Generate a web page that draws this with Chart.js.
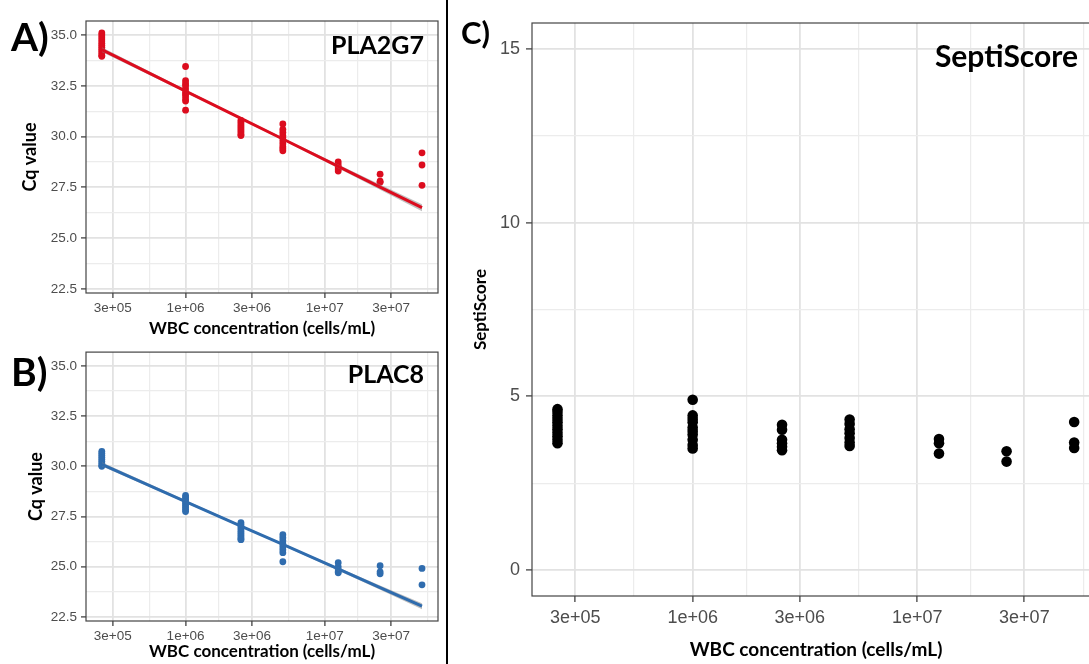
<!DOCTYPE html>
<html>
<head>
<meta charset="utf-8">
<title>WBC concentration vs Cq / SeptiScore</title>
<script src="https://cdn.jsdelivr.net/npm/chart.js"></script>
<style>
    html, body { margin: 0; padding: 0; width: 1089px; height: 664px; overflow: hidden; background: #fff; }
    canvas { position: absolute; }
    .lbl { position: absolute; font-family: Lato, sans-serif; font-weight: 700; line-height: 1; color: #000; white-space: nowrap; }
    #sep { position: absolute; left: 446px; top: 0; width: 2px; height: 664px; background: #000; }
</style>
</head>
<body>
<canvas id="chartA" width="446" height="340" style="left:0;top:0"></canvas>
<canvas id="chartB" width="446" height="324" style="left:0;top:340px"></canvas>
<canvas id="chartC" width="660" height="664" style="left:450px;top:0"></canvas>
<div id="sep"></div>
<div class="lbl" style="left:11px;top:17px;font-size:39px">A)</div>
<div class="lbl" style="left:11px;top:352px;font-size:39px">B)</div>
<div class="lbl" style="left:461px;top:17px;font-size:31px">C)</div>
<div class="lbl" style="right:665px;top:32px;font-size:25px">PLA2G7</div>
<div class="lbl" style="right:665px;top:361px;font-size:25px">PLAC8</div>
<div class="lbl" style="right:11px;top:40px;font-size:30px">SeptiScore</div>

<script>
// WBC concentrations (cells/mL), one per cluster
const concentrations = [2.5e5, 1e6, 2.5e6, 5e6, 1.25e7, 2.5e7, 5e7];

// axis breaks
const xMajorTicks = [3e5, 1e6, 3e6, 1e7, 3e7];
const xMajorLabels = ['3e+05', '1e+06', '3e+06', '1e+07', '3e+07'];
const xMinorTicks = [5.48e5, 1.73e6, 5.48e6, 1.73e7, 5.48e7];
const cqMajorTicks = [22.5, 25, 27.5, 30, 32.5, 35];
const cqMinorTicks = [23.75, 26.25, 28.75, 31.25, 33.75];
const scoreMajorTicks = [0, 5, 10, 15];
const scoreMinorTicks = [2.5, 7.5, 12.5];

// PLA2G7 Cq values per concentration
const pla2g7Cq = [
    [35.1, 35.0, 34.9, 34.8, 34.7, 34.6, 34.5, 34.4, 34.3, 34.2, 34.1, 34.0, 33.95],
    [33.45, 32.75, 32.6, 32.5, 32.35, 32.2, 32.1, 32.0, 31.85, 31.75, 31.3],
    [30.8, 30.7, 30.6, 30.5, 30.4, 30.3, 30.2, 30.1, 30.05],
    [30.62, 30.35, 30.2, 30.05, 29.95, 29.8, 29.65, 29.5, 29.4, 29.3],
    [28.75, 28.6, 28.5, 28.4, 28.3],
    [28.15, 27.8, 27.75],
    [29.2, 28.6, 27.6]
];
const pla2g7Fit = [34.28, 32.24, 30.90, 29.88, 28.53, 27.51, 26.50];
const pla2g7Low = [34.16, 32.17, 30.85, 29.82, 28.44, 27.38, 26.33];
const pla2g7High = [34.40, 32.31, 30.95, 29.94, 28.62, 27.64, 26.67];

// PLAC8 Cq values per concentration
const plac8Cq = [
    [30.75, 30.65, 30.55, 30.45, 30.35, 30.25, 30.15, 30.05, 30.0],
    [28.55, 28.45, 28.35, 28.25, 28.15, 28.05, 27.95, 27.85, 27.75],
    [27.2, 27.1, 27.0, 26.9, 26.8, 26.7, 26.6, 26.5, 26.4, 26.35],
    [26.6, 26.45, 26.3, 26.15, 26.0, 25.85, 25.7, 25.25],
    [25.2, 25.0, 24.85, 24.75, 24.7],
    [25.05, 24.75, 24.65],
    [24.92, 24.1]
];
const plac8Fit = [30.10, 28.25, 27.03, 26.11, 24.89, 23.96, 23.04];
const plac8Low = [30.00, 28.19, 26.98, 26.06, 24.81, 23.85, 22.89];
const plac8High = [30.20, 28.31, 27.08, 26.16, 24.97, 24.07, 23.19];

// SeptiScore per concentration
const septiScore = [
    [4.63, 4.55, 4.45, 4.35, 4.25, 4.15, 4.05, 3.95, 3.85, 3.75, 3.65],
    [4.9, 4.45, 4.35, 4.25, 4.1, 4.0, 3.9, 3.75, 3.6, 3.5],
    [4.18, 4.04, 3.75, 3.65, 3.55, 3.45],
    [4.33, 4.2, 4.05, 3.94, 3.8, 3.67, 3.57],
    [3.77, 3.65, 3.35],
    [3.42, 3.12],
    [4.26, 3.67, 3.51]
];

const xMin = 1.925e5;
const xMax = 6.516e7;

const toPoints = (groups) => groups.flatMap((ys, i) => ys.map(y => ({ x: concentrations[i], y })));
const toLine = (ys) => ys.map((y, i) => ({ x: concentrations[i], y }));
const tickList = (major, minor) => [...major, ...minor].sort((a, b) => a - b).map(value => ({ value }));
const isMajor = (major, v) => major.some(m => Math.abs(m - v) <= 1e-6 * Math.max(1, Math.abs(m)));

const gridFor = (major, tickLength) => ({
    color: ctx => ctx.tick && isMajor(major, ctx.tick.value) ? '#e2e2e2' : '#ececec',
    lineWidth: ctx => ctx.tick && isMajor(major, ctx.tick.value) ? 1.8 : 1.2,
    tickColor: ctx => ctx.tick && isMajor(major, ctx.tick.value) ? '#333333' : 'rgba(0,0,0,0)',
    tickWidth: 1.2,
    tickLength
});

const panelBorder = {
    id: 'panelBorder',
    afterDatasetsDraw(chart) {
        const { ctx, chartArea: a } = chart;
        ctx.save();
        ctx.strokeStyle = '#444';
        ctx.lineWidth = 1.2;
        ctx.strokeRect(a.left, a.top, a.right - a.left, a.bottom - a.top);
        ctx.restore();
    }
};

const fitDatasets = (fit, low, high, color) => [
    { type: 'line', data: toLine(fit), borderColor: color, borderWidth: 3, pointRadius: 0, fill: false, order: 0 },
    { type: 'line', data: toLine(high), borderColor: 'rgba(0,0,0,0)', borderWidth: 0, pointRadius: 0, fill: false, order: 1 },
    { type: 'line', data: toLine(low), borderColor: 'rgba(0,0,0,0)', borderWidth: 0, pointRadius: 0,
      fill: '-1', backgroundColor: 'rgba(140,140,140,0.55)', order: 1 }
];

const buildPanel = (id, p) => new Chart(document.getElementById(id), {
    type: 'scatter',
    data: { datasets: p.datasets },
    options: {
        responsive: false,
        animation: false,
        events: [],
        layout: { padding: p.padding },
        plugins: { legend: { display: false }, tooltip: { enabled: false } },
        scales: {
            x: {
                type: 'logarithmic',
                bounds: 'data',
                min: xMin,
                max: xMax,
                afterBuildTicks: s => { s.ticks = tickList(xMajorTicks, xMinorTicks); },
                afterFit: s => { s.height = p.xHeight; },
                ticks: {
                    autoSkip: false,
                    maxRotation: 0,
                    color: '#4d4d4d',
                    font: { family: 'Liberation Sans', size: p.tickSize },
                    padding: p.xPad,
                    callback: v => {
                        const i = xMajorTicks.findIndex(m => Math.abs(m - v) <= 1e-6 * m);
                        return i >= 0 ? xMajorLabels[i] : '';
                    }
                },
                grid: gridFor(xMajorTicks, p.tickLen),
                border: { display: false },
                title: {
                    display: true,
                    text: 'WBC concentration (cells/mL)',
                    color: '#000',
                    font: { family: 'Lato', weight: 'bold', size: p.xTitleSize },
                    padding: { top: 0, bottom: p.xTitlePad }
                }
            },
            y: {
                type: 'linear',
                bounds: 'data',
                min: p.yMin,
                max: p.yMax,
                afterBuildTicks: s => { s.ticks = tickList(p.yMajor, p.yMinor); },
                afterFit: s => { s.width = p.yWidth; },
                ticks: {
                    autoSkip: false,
                    color: '#4d4d4d',
                    font: { family: 'Liberation Sans', size: p.tickSize },
                    padding: p.yPad,
                    callback: v => isMajor(p.yMajor, v) ? p.yFormat(v) : ''
                },
                grid: gridFor(p.yMajor, p.tickLen),
                border: { display: false },
                title: {
                    display: true,
                    text: p.yTitle,
                    color: '#000',
                    font: { family: 'Lato', weight: 'bold', size: p.yTitleSize },
                    padding: { top: p.yTitlePad, bottom: 0 }
                }
            }
        }
    },
    plugins: [panelBorder]
});

const red = '#dc0c1e';
const blue = '#2f6cae';

buildPanel('chartA', {
    datasets: [
        ...fitDatasets(pla2g7Fit, pla2g7Low, pla2g7High, red),
        { data: toPoints(pla2g7Cq), pointRadius: 3.4, backgroundColor: red, pointBorderWidth: 0, order: 2 }
    ],
    padding: { top: 21, right: 8, left: 0, bottom: 0 },
    xHeight: 47, yWidth: 86, tickLen: 5, xPad: 2, yPad: 4, tickSize: 13.5,
    xTitleSize: 17, xTitlePad: 1, yTitle: 'Cq value', yTitleSize: 18, yTitlePad: 19,
    yMin: 22.3, yMax: 35.69, yMajor: cqMajorTicks, yMinor: cqMinorTicks, yFormat: v => v.toFixed(1)
});

buildPanel('chartB', {
    datasets: [
        ...fitDatasets(plac8Fit, plac8Low, plac8High, blue),
        { data: toPoints(plac8Cq), pointRadius: 3.4, backgroundColor: blue, pointBorderWidth: 0, order: 2 }
    ],
    padding: { top: 8, right: 8, left: 0, bottom: 0 },
    xHeight: 43, yWidth: 86, tickLen: 5, xPad: 2, yPad: 4, tickSize: 13.5,
    xTitleSize: 17, xTitlePad: 2, yTitle: 'Cq value', yTitleSize: 18, yTitlePad: 25,
    yMin: 22.3, yMax: 35.69, yMajor: cqMajorTicks, yMinor: cqMinorTicks, yFormat: v => v.toFixed(1)
});

buildPanel('chartC', {
    datasets: [
        { data: toPoints(septiScore), pointRadius: 5.3, backgroundColor: '#000', pointBorderWidth: 0 }
    ],
    padding: { top: 23, right: 10, left: 0, bottom: 0 },
    xHeight: 68, yWidth: 82, tickLen: 6, xPad: 5, yPad: 6, tickSize: 18,
    xTitleSize: 19, xTitlePad: 3, yTitle: 'SeptiScore', yTitleSize: 17, yTitlePad: 20,
    yMin: -0.75, yMax: 15.75, yMajor: scoreMajorTicks, yMinor: scoreMinorTicks, yFormat: v => String(v)
});
</script>
</body>
</html>
